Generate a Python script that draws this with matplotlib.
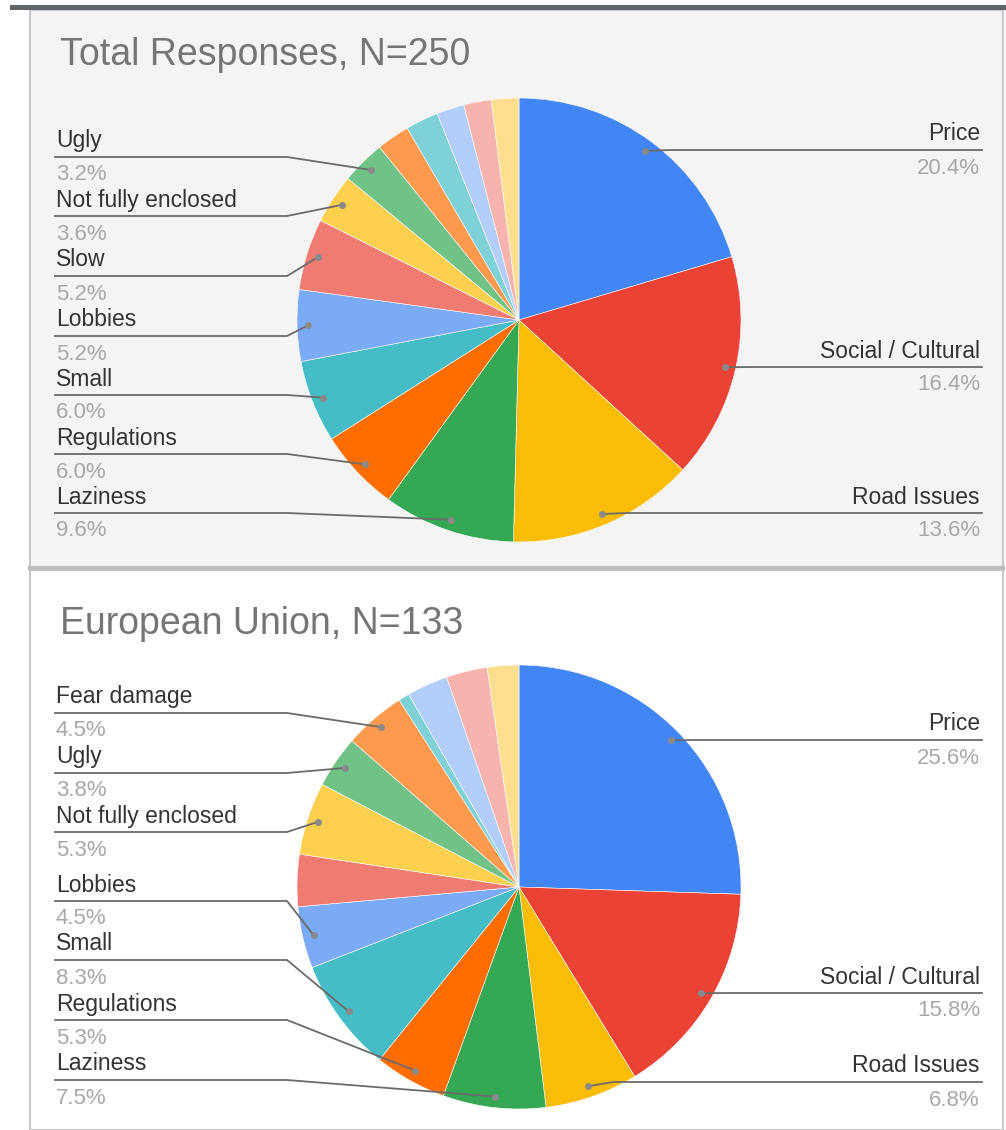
import math
import matplotlib.pyplot as plt
from matplotlib.patches import Rectangle

plt.rcParams['font.family'] = ['Liberation Sans', 'DejaVu Sans']

W, H = 1006, 1130

# Google Sheets palette, slice order clockwise from 12 o'clock
colors = ["#4285F4", "#EA4335", "#FBBC04", "#34A853", "#FF6D01",
          "#46BDC6", "#7BAAF7", "#F07B72", "#FCD04F", "#71C287",
          "#FF994D", "#7ED1D7", "#B3CEFB", "#F7B4AE", "#FDDE8F"]

categories = ["Price", "Social / Cultural", "Road Issues", "Laziness", "Regulations",
              "Small", "Lobbies", "Slow", "Not fully enclosed", "Ugly",
              "Fear damage", "Other 1", "Other 2", "Other 3", "Other 4"]

# percentages
total_vals = [20.4, 16.4, 13.6, 9.6, 6.0, 6.0, 5.2, 5.2, 3.6, 3.2,
              2.4, 2.4, 2.0, 2.0, 2.0]
eu_vals = [25.6, 15.8, 6.8, 7.5, 5.3, 8.3, 4.5, 3.8, 5.3, 3.8,
           4.5, 0.8, 3.0, 3.0, 2.3]

# which slices carry a label (left side / right side)
total_right = ["Price", "Social / Cultural", "Road Issues"]
total_left = ["Ugly", "Not fully enclosed", "Slow", "Lobbies", "Small",
              "Regulations", "Laziness"]
eu_right = ["Price", "Social / Cultural", "Road Issues"]
eu_left = ["Fear damage", "Ugly", "Not fully enclosed", "Lobbies", "Small",
           "Regulations", "Laziness"]

fig = plt.figure(figsize=(W / 100, H / 100), dpi=100)
ax = fig.add_axes([0, 0, 1, 1])


def Y(y):
    return H - y


# panels
ax.add_patch(Rectangle((0, 0), W, H, facecolor="white", edgecolor="none", zorder=0))
ax.add_patch(Rectangle((30, Y(567)), 973, 557, facecolor="#f4f4f4",
                       edgecolor="#c8c8c8", lw=1.5, zorder=0))
ax.add_patch(Rectangle((30, Y(1130)), 973, 560, facecolor="white",
                       edgecolor="#c8c8c8", lw=1.5, zorder=0))
ax.plot([30, 1003], [Y(568), Y(568)], color="#bdbdbd", lw=3, zorder=1)
ax.add_patch(Rectangle((10, Y(10)), W - 10, 5, facecolor="#5f6368",
                       edgecolor="none", zorder=1))

R = 222
line_c = "#6b6b6b"


def draw_pie(vals, cy, title, title_y, right_labels, right_ys, left_labels, left_ys):
    c = (519, Y(cy))
    wedges, _ = ax.pie(vals, colors=colors, startangle=90, counterclock=False,
                       radius=R, center=c,
                       wedgeprops=dict(edgecolor="white", linewidth=0.4))
    ax.text(60, Y(title_y), title, fontsize=27, color="#757575", va="center")

    def dot(name):
        w = wedges[categories.index(name)]
        a = math.radians((w.theta1 + w.theta2) / 2)
        return c[0] + 0.95 * R * math.cos(a), c[1] + 0.95 * R * math.sin(a)

    for name, ly in zip(right_labels, right_ys):
        dx, dy = dot(name)
        pct = vals[categories.index(name)]
        ax.plot([dx, dx + 25, 982], [dy, Y(ly), Y(ly)], color=line_c, lw=1.3, zorder=3)
        ax.plot(dx, dy, "o", ms=4, color="#8a8a8a", zorder=4)
        ax.text(980, Y(ly - 16), name, fontsize=16.5, color="#333333",
                ha="right", va="center")
        ax.text(980, Y(ly + 18), f"{pct:.1f}%", fontsize=16, color="#a8a8a8",
                ha="right", va="center")

    for name, ly in zip(left_labels, left_ys):
        dx, dy = dot(name)
        pct = vals[categories.index(name)]
        ax.plot([55, 287, dx], [Y(ly), Y(ly), dy], color=line_c, lw=1.3, zorder=3)
        ax.plot(dx, dy, "o", ms=4, color="#8a8a8a", zorder=4)
        ax.text(56, Y(ly - 16), name, fontsize=16.5, color="#333333", va="center")
        ax.text(56, Y(ly + 18), f"{pct:.1f}%", fontsize=16, color="#a8a8a8",
                va="center")


draw_pie(total_vals, 320, "Total Responses, N=250", 55,
         total_right, [150, 367, 513],
         total_left, [157, 216, 276, 336, 395, 454, 513])
draw_pie(eu_vals, 887, "European Union, N=133", 624,
         eu_right, [740, 993, 1082],
         eu_left, [713, 773, 832, 901, 960, 1020, 1080])

ax.set_xlim(0, W)
ax.set_ylim(0, H)
ax.set_aspect("auto")
ax.axis("off")

fig.savefig("out.png", dpi=100)
